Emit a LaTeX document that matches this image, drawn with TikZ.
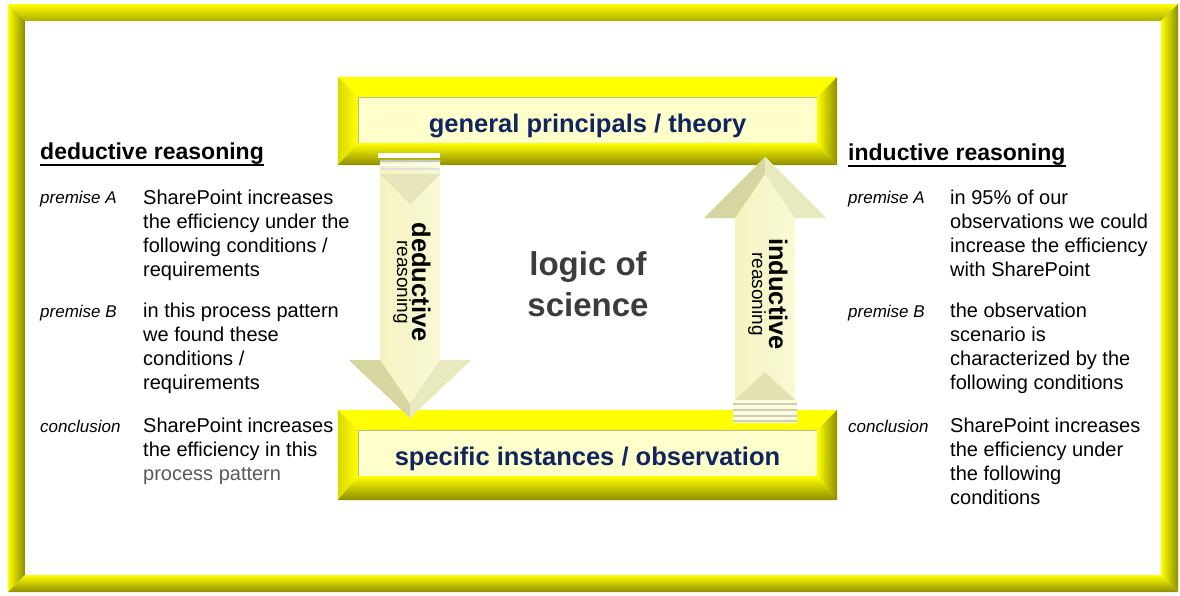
\documentclass[tikz,border=0pt]{standalone}
\usepackage{fontspec}
\setmainfont{Liberation Sans}
\usepackage{tikz}

\definecolor{bev}{RGB}{255,255,0}
\definecolor{bevdark}{RGB}{140,140,0}
\definecolor{panelfill}{RGB}{255,255,204}
\definecolor{panelline}{RGB}{185,185,150}
\definecolor{navy}{RGB}{16,36,96}
\definecolor{logicgray}{RGB}{60,60,60}
\definecolor{procgray}{RGB}{90,90,90}
\definecolor{arrowlight}{RGB}{252,252,222}
\definecolor{arrowmid}{RGB}{240,240,184}
\definecolor{arrowdark}{RGB}{214,214,160}

% yellow bevel round a node: name, side width, bottom width, left face, top face
\newcommand\bevelbox[7]{%
  \coordinate (#1-A) at ([shift={(-#2,-#2)}]#1.north west);
  \coordinate (#1-B) at ([shift={(#2,-#2)}]#1.north east);
  \coordinate (#1-C) at ([shift={(#2,#3)}]#1.south east);
  \coordinate (#1-D) at ([shift={(-#2,#3)}]#1.south west);
  \shade[top color=#6, bottom color=#7] (#1-A) -- (#1-B) -- (#1.north east) -- (#1.north west) -- cycle;
  \shade[left color=#4, right color=#5] (#1-A) -- (#1.north west) -- (#1.south west) -- (#1-D) -- cycle;
  \shade[left color=bev, right color=bevdark] (#1-B) -- (#1-C) -- (#1.south east) -- (#1.north east) -- cycle;
  \shade[top color=bev, bottom color=bevdark] (#1.south west) -- (#1.south east) -- (#1-C) -- (#1-D) -- cycle;
}

\begin{document}
\begin{tikzpicture}[x=1pt, y=-1pt,
    panel/.style={draw=panelline, fill=panelfill, minimum width=459, text=navy,
      text height=25pt, text depth=0pt, font=\fontsize{25.5}{30}\selectfont\bfseries},
    heading/.style={anchor=base west, inner sep=0, font=\fontsize{23}{27}\selectfont\bfseries},
    tag/.style={anchor=base west, inner sep=0, font=\fontsize{17}{20}\selectfont\itshape},
    body/.style={anchor=base west, inner sep=0, align=left, font=\fontsize{20}{24}\selectfont},
    vword/.style={rotate=-90, anchor=base, inner sep=0, font=\fontsize{25.5}{30}\selectfont\bfseries},
    vsub/.style={rotate=-90, anchor=base, inner sep=0, font=\fontsize{19}{22}\selectfont}]

    \useasboundingbox[fill=white] (0,0) rectangle (1180,596);

    % outer frame
    \node[inner sep=0, minimum width=1136, minimum height=554] (page) at (593,298) {};
    \bevelbox{page}{17}{17}{bev}{bevdark}{bev}{bevdark!70!bev}

    % the two boxes
    \node[panel, minimum height=46] (theory) at (587.5,120) {general principals / theory};
    \node[panel, minimum height=46] (observation) at (587.5,453) {specific instances / observation};
    \bevelbox{theory}{20}{22}{bev!85!black}{bev}{bev}{bev}
    \bevelbox{observation}{20}{24}{bev!85!black}{bev}{bev}{bev}

    % deductive arrow
    \coordinate (dtop) at (410,160);
    \coordinate (dtip) at (410,418);
    \shade[left color=arrowmid, right color=arrowlight]
      (dtop) ++(-30,0) -- ++(60,0) -- ++(0,200) -- ++(31,0) -- (dtip) -- ++(-61,-58) -- ++(31,0) -- cycle;
    \fill[arrowdark] (349,360) -- (380,360) -- (410,404) -- (dtip) -- cycle;
    \fill[arrowdark!50!arrowlight] (471,360) -- (440,360) -- (410,404) -- (dtip) -- cycle;
    \fill[arrowdark!60!arrowlight] (380,174) -- (440,174) -- (410,204) -- cycle;
    \fill[white] (378,153) rectangle (440,158);
    \draw[gray!45, line width=2] (380,161) -- (440,161);
    \draw[white, line width=2] (380,165) -- (440,165);
    \draw[gray!25, line width=2] (380,169) -- (440,169);

    % inductive arrow
    \coordinate (ibot) at (765,400);
    \coordinate (itip) at (765,157);
    \shade[left color=arrowmid, right color=arrowlight]
      (ibot) ++(-30,0) -- ++(0,-182) -- ++(-31,0) -- (itip) -- ++(61,61) -- ++(-31,0) -- ++(0,182) -- cycle;
    \fill[arrowdark] (704,218) -- (735,218) -- (765,174) -- (itip) -- cycle;
    \fill[arrowdark!50!arrowlight] (826,218) -- (795,218) -- (765,174) -- (itip) -- cycle;
    \fill[arrowdark!70!arrowlight] (735,400) -- (795,400) -- (765,372) -- cycle;
    \fill[arrowlight] (733,400) rectangle (797,423);
    \foreach \y in {404,410,416,421}
      \draw[arrowdark!80!black!60, line width=2] (733,\y) -- (797,\y);

    % arrow texts
    \node[vword] (dedword) at (412,282) {deductive};
    \node[vsub] (dedsub) at (397,282) {reasoning};
    \node[vword] (indword) at (769,294) {inductive};
    \node[vsub] (indsub) at (752,294) {reasoning};

    % centre
    \node[align=center, text=logicgray, font=\fontsize{33}{41}\selectfont\bfseries] (logic) at (588,284) {logic of\\science};

    % deductive side (base = last line)
    \node[heading] (dedhead) at (40,160) {deductive reasoning};
    \draw[line width=2.2] ([yshift=-5pt]dedhead.base west) -- ([yshift=-5pt]dedhead.base east);
    \node[tag] (dedA) at (40,204) {premise A};
    \node[body] (dedAtext) at (143,276) {SharePoint increases\\the efficiency under the\\following conditions /\\requirements};
    \node[tag] (dedB) at (40,317) {premise B};
    \node[body] (dedBtext) at (143,389) {in this process pattern\\we found these\\conditions /\\requirements};
    \node[tag] (dedC) at (40,432) {conclusion};
    \node[body] (dedCtext) at (143,480) {SharePoint increases\\the efficiency in this\\\textcolor{procgray}{process pattern}};

    % inductive side
    \node[heading] (indhead) at (848,161) {inductive reasoning};
    \draw[line width=2.2] ([yshift=-5pt]indhead.base west) -- ([yshift=-5pt]indhead.base east);
    \node[tag] (indA) at (848,204) {premise A};
    \node[body] (indAtext) at (950,276) {in 95\% of our\\observations we could\\increase the efficiency\\with SharePoint};
    \node[tag] (indB) at (848,317) {premise B};
    \node[body] (indBtext) at (950,389) {the observation\\scenario is\\characterized by the\\following conditions};
    \node[tag] (indC) at (848,432) {conclusion};
    \node[body] (indCtext) at (950,504) {SharePoint increases\\the efficiency under\\the following\\conditions};

\end{tikzpicture}
\end{document}
